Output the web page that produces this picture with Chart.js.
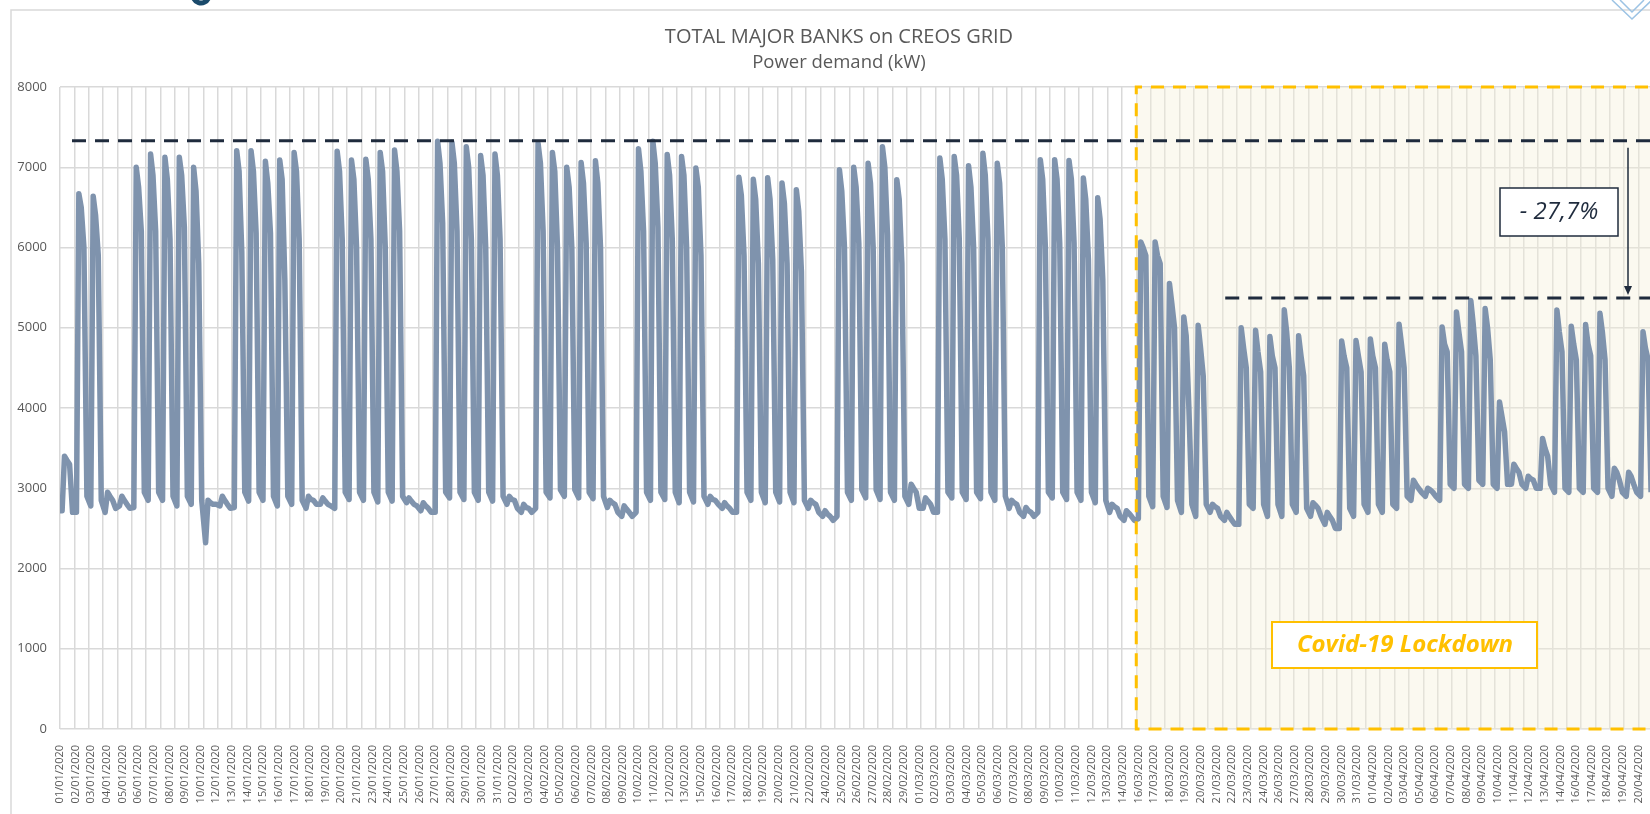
<!DOCTYPE html>
<html><head><meta charset="utf-8">
<script src="https://cdn.jsdelivr.net/npm/chart.js@4.4.1/dist/chart.umd.min.js"></script>
<style>html,body{margin:0;padding:0;background:#fff;overflow:hidden}#wrap{width:1650px;height:814px;position:relative}</style>
</head><body><div id="wrap"><canvas id="c" width="1650" height="814"></canvas></div>
<script>
// ---- data ----
const tickLabels = ['01/01/2020','02/01/2020','03/01/2020','04/01/2020','05/01/2020','06/01/2020','07/01/2020','08/01/2020','09/01/2020','10/01/2020','12/01/2020','13/01/2020','14/01/2020','15/01/2020','16/01/2020','17/01/2020','18/01/2020','19/01/2020','20/01/2020','21/01/2020','23/01/2020','24/01/2020','25/01/2020','26/01/2020','27/01/2020','28/01/2020','29/01/2020','30/01/2020','31/01/2020','02/02/2020','03/02/2020','04/02/2020','05/02/2020','06/02/2020','07/02/2020','08/02/2020','09/02/2020','10/02/2020','11/02/2020','12/02/2020','13/02/2020','15/02/2020','16/02/2020','17/02/2020','18/02/2020','19/02/2020','20/02/2020','21/02/2020','22/02/2020','24/02/2020','25/02/2020','26/02/2020','27/02/2020','28/02/2020','29/02/2020','01/03/2020','02/03/2020','03/03/2020','04/03/2020','05/03/2020','06/03/2020','07/03/2020','08/03/2020','09/03/2020','10/03/2020','11/03/2020','12/03/2020','13/03/2020','14/03/2020','16/03/2020','17/03/2020','18/03/2020','19/03/2020','20/03/2020','21/03/2020','22/03/2020','23/03/2020','24/03/2020','26/03/2020','27/03/2020','28/03/2020','29/03/2020','30/03/2020','31/03/2020','01/04/2020','02/04/2020','03/04/2020','05/04/2020','06/04/2020','07/04/2020','08/04/2020','09/04/2020','10/04/2020','11/04/2020','12/04/2020','13/04/2020','14/04/2020','16/04/2020','17/04/2020','18/04/2020','19/04/2020','20/04/2020'];

// one value per day, 01/01/2020 .. 20/04/2020 (kW)
const dayLow = [2720,2700,2780,2700,2780, 2760,2850,2850,2780,2800, 2320,2780, 2760,2840,2850,2780,2800, 2750,2800, 2750,2860,2850,2830,2840, 2820,2720, 2700,2880,2860,2850,2840, 2800,2700, 2750,2880,2900,2880,2870, 2760,2650, 2700,2850,2860,2820,2830, 2800,2750, 2700,2850,2820,2830,2820, 2750,2650, 2650,2850,2880,2860,2850, 2800,2750, 2700,2880,2860,2870,2850, 2750,2650, 2700,2880,2860,2850,2820, 2700,2600, 2620,2770,2760,2700,2650, 2700,2600, 2550,2750,2650,2650,2700, 2650,2550, 2500,2650,2700,2700,2750, 2850,2900, 2850,3000,3000,3050,3000, 3050,3000, 3000, 2950,2950,2950,2950, 2900,2900, 2900];
const dayPeak = [3400,6670,6640,2950,2900, 7000,7165,7125,7125,7000, 2850,2900, 7207,7207,7075,7090,7185, 2900,2880, 7200,7090,7100,7185,7215, 2880,2820, 7325,7310,7255,7145,7165, 2900,2800, 7300,7185,7000,7060,7080, 2850,2780, 7230,7325,7160,7135,6990, 2900,2820, 6875,6850,6870,6805,6720, 2850,2720, 6970,7000,7050,7255,6845, 3050,2880, 7115,7135,7020,7175,7050, 2850,2760, 7095,7095,7085,6865,6620, 2800,2720, 6070,6070,5550,5135,5030, 2800,2700, 5000,4970,4890,5225,4900, 2820,2700, 4835,4840,4860,4795,5045, 3100,3000, 5010,5195,5340,5240,4075, 3300,3150, 3620, 5220,5020,5040,5180, 3250,3200, 4950];
const dayMid = [3350,6500,6400,2900,2850, 6750,6900,6850,6900,6700, 2820,2850, 6950,6950,6800,6850,6950, 2860,2840, 6950,6850,6850,6950,6950, 2840,2780, 7050,7050,7000,6900,6900, 2860,2760, 7050,6950,6750,6800,6800, 2820,2740, 6950,7050,6900,6900,6750, 2860,2780, 6650,6600,6600,6550,6450, 2820,2680, 6700,6750,6800,7000,6600, 3000,2840, 6850,6900,6750,6900,6800, 2820,2720, 6850,6850,6850,6600,6350, 2770,2690, 6000,5900,5300,4900,4750, 2770,2650, 4750,4700,4650,4950,4650, 2790,2650, 4650,4650,4650,4600,4800, 3050,2980, 4800,4950,5050,5000,3900, 3250,3120, 3500, 4950,4800,4800,4950, 3200,3150, 4750];
const dayShoulder = [3300,6000,5900,2850,2800, 6200,6200,6100,6250,5800, 2800,2800, 5950,6175,6175,5600,6100, 2850,2800, 6100,6000,6100,6000,6200, 2800,2750, 6300,6200,6100,6000,6100, 2850,2750, 6200,6000,6000,6050,6000, 2800,2700, 6200,6250,6100,6000,5900, 2850,2750, 5900,5800,5850,5800,5700, 2800,2650, 6000,6050,6000,6150,5800, 2950,2800, 6100,6100,6000,6100,6000, 2800,2700, 6000,6050,6050,5850,5600, 2750,2650, 5900,5800,5000,4000,4400, 2750,2600, 4500,4450,4500,4500,4400, 2750,2600, 4500,4450,4500,4450,4500, 3000,2950, 4700,4700,4650,4600,3700, 3200,3100, 3400, 4700,4600,4650,4600, 3100,3050, 4600];
const dayEve = [2700,2900,2850,2750,2750, 2950,2950,2900,2900,2850, 2800,2750, 2950,2950,2900,2900,2850, 2800,2780, 2950,2950,2950,2950,2900, 2780,2700, 2950,2950,2950,2950,2900, 2750,2700, 2950,2980,2980,2950,2900, 2700,2650, 2950,2950,2950,2950,2900, 2800,2700, 2950,2950,2950,2950,2850, 2700,2600, 2950,2980,2980,2950,2900, 2750,2700, 2950,2950,2950,2950,2900, 2700,2650, 2950,2950,2950,2950,2850, 2650,2600, 2900,2900,2850,2800,2800, 2650,2550, 2800,2800,2800,2800,2750, 2650,2500, 2750,2800,2800,2800,2900, 2950,2900, 3050,3050,3100,3050,3050, 3050,3000, 3050, 3000,3000,3000,3000, 2950,2950, 2950];

const lockdownStartDay = 75;      // 16/03/2020
const refPeakLevel = 7330;        // pre-lockdown peak (dashed)
const lockdownPeakLevel = 5370;   // lockdown peak (dashed)
const dropText = '- 27,7%';
const lockdownText = 'Covid-19 Lockdown';
const titleLines = ['TOTAL MAJOR BANKS on CREOS GRID', 'Power demand (kW)'];

// ---- build the series table (x in days since 01/01/2020) ----
const HOURS = [3.5, 7.5, 11.5, 16, 21];
const series = [{x: 0, y: dayLow[0]}];
for (let d = 0; d < dayPeak.length; d++) {
  const v = [dayLow[d], dayPeak[d], dayMid[d], dayShoulder[d], dayEve[d]];
  HOURS.forEach((h, i) => series.push({x: d + h / 24, y: v[i]}));
}
const XMAX = 110.8;
const gridDays = Array.from({length: dayPeak.length}, (_, i) => i);
const labelPos = tickLabels.map((_, i) => i * 110 / (tickLabels.length - 1));

const FONT = "'Open Sans', 'Liberation Sans', sans-serif";
const NAVY = '#1f2b3d';
const ORANGE = '#ffc000';

const deco = {
  id: 'deco',
  beforeDraw(chart) {
    const c = chart.ctx;
    c.save();
    c.fillStyle = '#fff';
    c.fillRect(0, 0, chart.width, chart.height);
    c.strokeStyle = '#d9d9d9'; c.lineWidth = 1.5;
    c.beginPath(); c.moveTo(11, chart.height); c.lineTo(11, 10); c.lineTo(chart.width, 10); c.stroke();
    // cropped slide-heading fragment and corner logo fragment
    c.strokeStyle = '#1a4a6b'; c.lineWidth = 5;
    c.beginPath(); c.arc(201, -5, 8, 0.1 * Math.PI, 0.9 * Math.PI); c.stroke();
    c.strokeStyle = '#9cc3e4'; c.lineWidth = 1.5;
    c.beginPath(); c.moveTo(1612, 0); c.lineTo(1632, 19); c.lineTo(1652, 0); c.stroke();
    c.beginPath(); c.moveTo(1620, 0); c.lineTo(1632, 12); c.lineTo(1644, 0); c.stroke();
    c.restore();
  },
  beforeDatasetsDraw(chart) {
    const {ctx: c, chartArea: a, scales: {x, y}} = chart;
    const x0 = x.getPixelForValue(lockdownStartDay);
    c.save();
    c.fillStyle = 'rgba(246,240,218,0.4)';
    c.fillRect(x0, y.getPixelForValue(8000), a.right - x0 + 20, y.getPixelForValue(0) - y.getPixelForValue(8000));
    c.restore();
  },
  afterDatasetsDraw(chart) {
    const {ctx: c, chartArea: a, scales: {x, y}} = chart;
    const x0 = x.getPixelForValue(lockdownStartDay);
    const yTop = y.getPixelForValue(8000), yBot = y.getPixelForValue(0);
    c.save();
    c.strokeStyle = ORANGE; c.lineWidth = 3; c.setLineDash([13, 9]);
    c.beginPath(); c.moveTo(a.right + 20, yTop); c.lineTo(x0, yTop); c.lineTo(x0, yBot); c.lineTo(a.right + 20, yBot); c.stroke();
    c.strokeStyle = NAVY; c.lineWidth = 3; c.setLineDash([14, 9]);
    const yRef = y.getPixelForValue(refPeakLevel);
    c.beginPath(); c.moveTo(a.left + 12, yRef); c.lineTo(a.right, yRef); c.stroke();
    const yLock = y.getPixelForValue(lockdownPeakLevel);
    c.beginPath(); c.moveTo(x.getPixelForValue(81.2), yLock); c.lineTo(a.right, yLock); c.stroke();
    c.setLineDash([]); c.lineWidth = 1.5;
    const ax = a.right - 22;
    c.beginPath(); c.moveTo(ax, yRef + 7); c.lineTo(ax, yLock - 10); c.stroke();
    c.fillStyle = NAVY;
    c.beginPath(); c.moveTo(ax - 4, yLock - 12); c.lineTo(ax + 4, yLock - 12); c.lineTo(ax, yLock - 3); c.closePath(); c.fill();
    c.fillStyle = '#fff'; c.fillRect(1500, 188, 118, 48);
    c.strokeStyle = NAVY; c.lineWidth = 1.5; c.strokeRect(1500, 188, 118, 48);
    c.fillStyle = NAVY; c.font = 'italic 24px ' + FONT; c.textAlign = 'center'; c.textBaseline = 'middle';
    c.fillText(dropText, 1559, 212);
    c.fillStyle = '#fff'; c.fillRect(1272, 622, 265, 46);
    c.strokeStyle = ORANGE; c.lineWidth = 2; c.strokeRect(1272, 622, 265, 46);
    c.fillStyle = ORANGE; c.font = 'italic bold 24px ' + FONT;
    c.fillText(lockdownText, 1405, 645);
    c.restore();
  },
  afterDraw(chart) {
    const c = chart.ctx;
    c.save();
    c.fillStyle = '#595959'; c.textAlign = 'center'; c.textBaseline = 'alphabetic';
    c.font = '20px ' + FONT;
    c.fillText(titleLines[0], 839, 43);
    c.font = '18.5px ' + FONT;
    c.fillText(titleLines[1], 839, 68);
    c.restore();
  }
};

new Chart(document.getElementById('c'), {
  type: 'line',
  data: {datasets: [{data: series, borderColor: '#7f93ad', borderWidth: 5.5, pointRadius: 0, tension: 0, fill: false, borderJoinStyle: 'round'}]},
  options: {
    responsive: false, animation: false, events: [],
    layout: {padding: {top: 87, left: 0, right: 0, bottom: 0}},
    plugins: {legend: {display: false}, tooltip: {enabled: false}, title: {display: false}},
    scales: {
      x: {type: 'linear', position: 'bottom', min: 0, max: XMAX,
        afterBuildTicks: s => { s.ticks = gridDays.map(v => ({value: v})); },
        afterFit: s => { s.height = 0; },
        ticks: {display: false}, grid: {color: '#d9d9d9', lineWidth: 1.5, drawTicks: false}, border: {display: false}},
      xl: {type: 'linear', axis: 'x', position: 'bottom', min: 0, max: XMAX,
        afterBuildTicks: s => { s.ticks = labelPos.map(v => ({value: v})); },
        afterFit: s => { s.height = 85; s.paddingLeft = 0; s.paddingRight = 0; },
        ticks: {autoSkip: false, minRotation: 90, maxRotation: 90, padding: 8, color: '#595959',
          font: {family: FONT, size: 11}, callback: (v, i) => tickLabels[i]},
        grid: {display: false}, border: {display: false}},
      y: {min: 0, max: 8000,
        afterFit: s => { s.width = 60; },
        ticks: {stepSize: 1000, color: '#595959', font: {family: FONT, size: 13}, padding: 13, callback: v => String(v)},
        grid: {color: '#d9d9d9', lineWidth: 1.5, drawTicks: false}, border: {display: false}}
    }
  },
  plugins: [deco]
});
</script></body></html>
